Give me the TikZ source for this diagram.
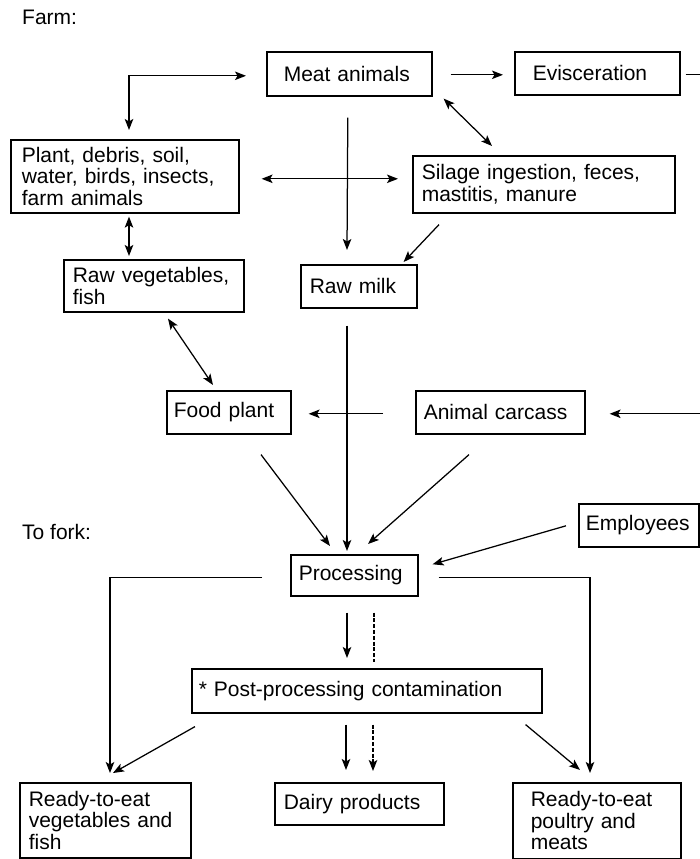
\documentclass[tikz,border=0pt]{standalone}
\usepackage{fontspec}
\setmainfont{Liberation Sans}
\usetikzlibrary{arrows.meta,calc}
\tikzset{
  box/.style={draw, line width=1.6pt, rectangle, align=left, inner ysep=2pt,
    font=\fontsize{21}{21.5}\selectfont},
  tip/.tip={Stealth[length=11pt,width=8.5pt,inset=2.5pt]},
  arr/.style={line width=1.25pt, -tip},
  dbl/.style={line width=1.25pt, tip-tip},
  ln/.style={line width=1.25pt},
  dsh/.style={line width=1.25pt, dash pattern=on 4pt off 1.8pt},
  lbl/.style={inner sep=0pt, anchor=base west, font=\fontsize{21}{21.5}\selectfont}
}
\newcommand\bx[7]{%
  \pgfmathsetmacro\tw{#4-2*#6}%
  \node[box, inner xsep=#6pt, text width=\tw pt, minimum width=#4pt,
        minimum height=#5pt, anchor=north west] (#1) at (#2,#3) {#7};}
\begin{document}
\begin{tikzpicture}[x=1pt,y=-1pt]
\useasboundingbox (0,0) rectangle (700,859);
\clip (0,0) rectangle (700,859);
% labels
\node[lbl] (farm) at (22,25) {Farm:};
\node[lbl] (fork) at (22,539) {To fork:};
% boxes
\bx{meat}{266}{51}{165}{44}{17}{Meat animals}
\bx{evisc}{514}{51}{165}{43}{18}{Evisceration}
\bx{plant}{10}{139}{228}{73}{11}{Plant, debris, soil,\\water, birds, insects,\\farm animals}
\bx{silage}{412}{155}{262}{57}{9}{Silage ingestion, feces,\\mastitis, manure}
\bx{rawveg}{63}{259}{180}{52}{9}{Raw vegetables,\\fish}
\bx{rawmilk}{300}{264}{116}{43}{9}{Raw milk}
\bx{foodplant}{166}{390}{124}{43}{7}{Food plant}
\bx{carcass}{415}{390}{169}{43}{8}{Animal carcass}
\bx{employees}{578}{503}{120}{43}{7}{Employees}
\bx{proc}{290}{554}{127}{41}{8}{Processing}
\bx{post}{191}{668}{350}{44}{7}{* Post-processing contamination}
\bx{rteveg}{19}{782}{171}{75}{9}{Ready-to-eat\\vegetables and\\fish}
\bx{dairy}{274}{782}{169}{42}{9}{Dairy products}
\bx{poultry}{512}{782}{168}{76}{18}{Ready-to-eat\\poultry and\\meats}
% connectors
\draw[dbl] ($(meat.west)+(-20,2)$) -| ($(plant.north west)+(119,-9)$);
\draw[arr] ($(meat.east)+(18,1)$) -- ($(evisc.west)+(-11,1.5)$);
\draw[arr] ($(evisc.east)+(5,1.5)$) -- ++(30,0) |- ($(carcass.east)+(24,1.5)$);
\draw[dbl] ($(plant.east)+(22,2.5)$) -- ($(silage.west)+(-14,-5.5)$);
\draw[dbl] ($(meat.south east)+(11,2)$) -- ($(silage.north west)+(80,-9)$);
\draw[arr] ($(meat.south)+(-1.5,21)$) -- ($(rawmilk.north west)+(47,-14)$);
\draw[arr] ($(silage.south west)+(27,11)$) -- ($(rawmilk.north east)+(-14,-2)$);
\draw[dbl] ($(plant.south west)+(119,3)$) -- ($(rawveg.north west)+(66,-3)$);
\draw[dbl] ($(rawveg.south west)+(105,6)$) -- ($(foodplant.north west)+(47,-5)$);
\draw[arr] ($(carcass.west)+(-32,1.5)$) -- ($(foodplant.east)+(17,1.5)$);
\draw[arr] ($(rawmilk.south west)+(47,17)$) -- ($(proc.north west)+(57,-3)$);
\draw[arr] ($(foodplant.south west)+(95,20)$) -- ($(proc.north west)+(40,-8)$);
\draw[arr] ($(carcass.south west)+(54,20)$) -- ($(proc.north west)+(78,-10)$);
\draw[arr] ($(employees.west)+(-12,0.5)$) -- ($(proc.east)+(14,-11)$);
\draw[arr] ($(proc.west)+(-28,2)$) -| ($(rteveg.north west)+(91,-9)$);
\draw[arr] ($(proc.east)+(20,2)$) -| ($(poultry.north west)+(78,-9)$);
\draw[arr] ($(proc.south west)+(57,16)$) -- ($(post.north west)+(156,-10)$);
\draw[dsh] ($(proc.south west)+(84,16)$) -- ($(post.north west)+(183,-6)$);
\draw[arr] ($(post.south west)+(155,11)$) -- ($(dairy.north west)+(72,-12)$);
\draw[arr, dsh] ($(post.south west)+(182,11)$) -- ($(dairy.north west)+(99,-11)$);
\draw[arr] ($(post.south west)+(4,13)$) -- ($(rteveg.north west)+(94,-9)$);
\draw[arr] ($(post.south east)+(-17,11)$) -- ($(poultry.north west)+(68,-12)$);
\end{tikzpicture}
\end{document}
